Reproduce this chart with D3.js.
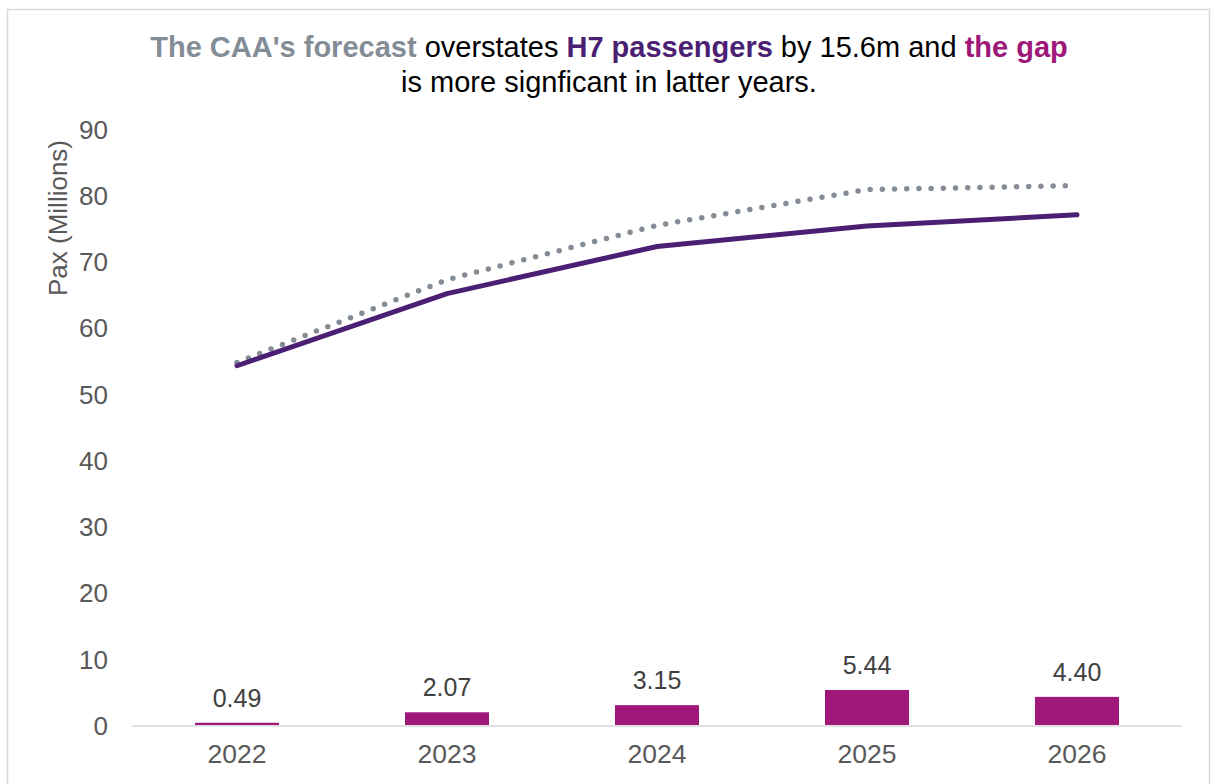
<!DOCTYPE html>
<html>
<head>
<meta charset="utf-8">
<script src="https://cdn.jsdelivr.net/npm/d3@7"></script>
<style>
  html, body { margin: 0; padding: 0; background: #fff; }
  svg { display: block; font-family: "Liberation Sans", Arial, sans-serif; }
</style>
</head>
<body>
<svg id="chart" width="1217" height="784"></svg>
<script>
// Passenger forecasts by year (millions)
const years = ["2022", "2023", "2024", "2025", "2026"];
const caaForecast = [54.9, 67.4, 75.6, 81.0, 81.6];
const h7Passengers = [54.4, 65.3, 72.4, 75.5, 77.2];
const gapValues = [0.49, 2.07, 3.15, 5.44, 4.40];
const yTicks = [0, 10, 20, 30, 40, 50, 60, 70, 80, 90];

const colors = { caa: "#848D96", h7: "#4B1F74", gap: "#A0177A", text: "#595959" };

const svg = d3.select("#chart");

// outer frame
svg.append("path")
  .attr("d", "M7.5,784 V9.5 H1209.5 V784")
  .attr("fill", "none")
  .attr("stroke", "#D9D9D9")
  .attr("stroke-width", 1.5);

const margin = { left: 132, right: 35, top: 130, bottom: 58 };
const W = 1217, H = 784;

const x = d3.scaleBand().domain(years)
  .range([margin.left, W - margin.right])
  .paddingInner(0.6).paddingOuter(0.3);
const xc = d => x(d) + x.bandwidth() / 2;
const y = d3.scaleLinear().domain([0, 90]).range([H - margin.bottom, margin.top]);

// y axis labels
const yAxis = d3.axisLeft(y).tickValues(yTicks).tickSize(0).tickPadding(24);
const gy = svg.append("g").attr("transform", `translate(${margin.left},0)`).call(yAxis);
gy.select(".domain").remove();
gy.selectAll("text").attr("font-size", 26).attr("fill", colors.text)
  .attr("font-family", "Liberation Sans, Arial, sans-serif");

// x axis
const xAxis = d3.axisBottom(x).tickSize(0).tickPadding(18);
const gx = svg.append("g").attr("transform", `translate(0,${y(0)})`).call(xAxis);
gx.select(".domain").attr("stroke", "#D9D9D9").attr("stroke-width", 1.5)
  .attr("d", `M${margin.left},0H${W - margin.right}`);
gx.selectAll("text").attr("font-size", 26.5).attr("fill", colors.text)
  .attr("font-family", "Liberation Sans, Arial, sans-serif");

// gap bars
const barW = x.bandwidth();
svg.append("g").selectAll("rect").data(years).join("rect")
  .attr("x", d => xc(d) - barW / 2)
  .attr("width", barW)
  .attr("y", (d, i) => y(gapValues[i]))
  .attr("height", (d, i) => y(0) - y(gapValues[i]) - 1)
  .attr("fill", colors.gap);

// gap value labels
svg.append("g").selectAll("text").data(years).join("text")
  .attr("x", d => xc(d))
  .attr("y", (d, i) => y(gapValues[i]) - 16)
  .attr("text-anchor", "middle")
  .attr("font-size", 25)
  .attr("fill", "#404040")
  .text((d, i) => gapValues[i].toFixed(2));

// lines
const line = d3.line().x((d, i) => xc(years[i])).y(d => y(d));

svg.append("path").datum(caaForecast)
  .attr("d", line)
  .attr("fill", "none")
  .attr("stroke", colors.caa)
  .attr("stroke-width", 5.5)
  .attr("stroke-linecap", "round")
  .attr("stroke-dasharray", "0 12.2");

svg.append("path").datum(h7Passengers)
  .attr("d", line)
  .attr("fill", "none")
  .attr("stroke", colors.h7)
  .attr("stroke-width", 5)
  .attr("stroke-linecap", "round")
  .attr("stroke-linejoin", "round");

// y axis title
svg.append("text")
  .attr("transform", "translate(67,218) rotate(-90)")
  .attr("text-anchor", "middle")
  .attr("font-size", 26)
  .attr("fill", colors.text)
  .text("Pax (Millions)");

// title
const title = svg.append("text")
  .attr("x", 609).attr("y", 57)
  .attr("text-anchor", "middle")
  .attr("font-size", 29)
  .attr("fill", "#000");
title.append("tspan").attr("font-weight", "bold").attr("fill", colors.caa).text("The CAA's forecast");
title.append("tspan").text(" overstates ");
title.append("tspan").attr("font-weight", "bold").attr("fill", colors.h7).text("H7 passengers");
title.append("tspan").text(" by 15.6m and ");
title.append("tspan").attr("font-weight", "bold").attr("fill", colors.gap).text("the gap");

svg.append("text")
  .attr("x", 609).attr("y", 92)
  .attr("text-anchor", "middle")
  .attr("font-size", 29)
  .attr("fill", "#000")
  .text("is more signficant in latter years.");
</script>
</body>
</html>
